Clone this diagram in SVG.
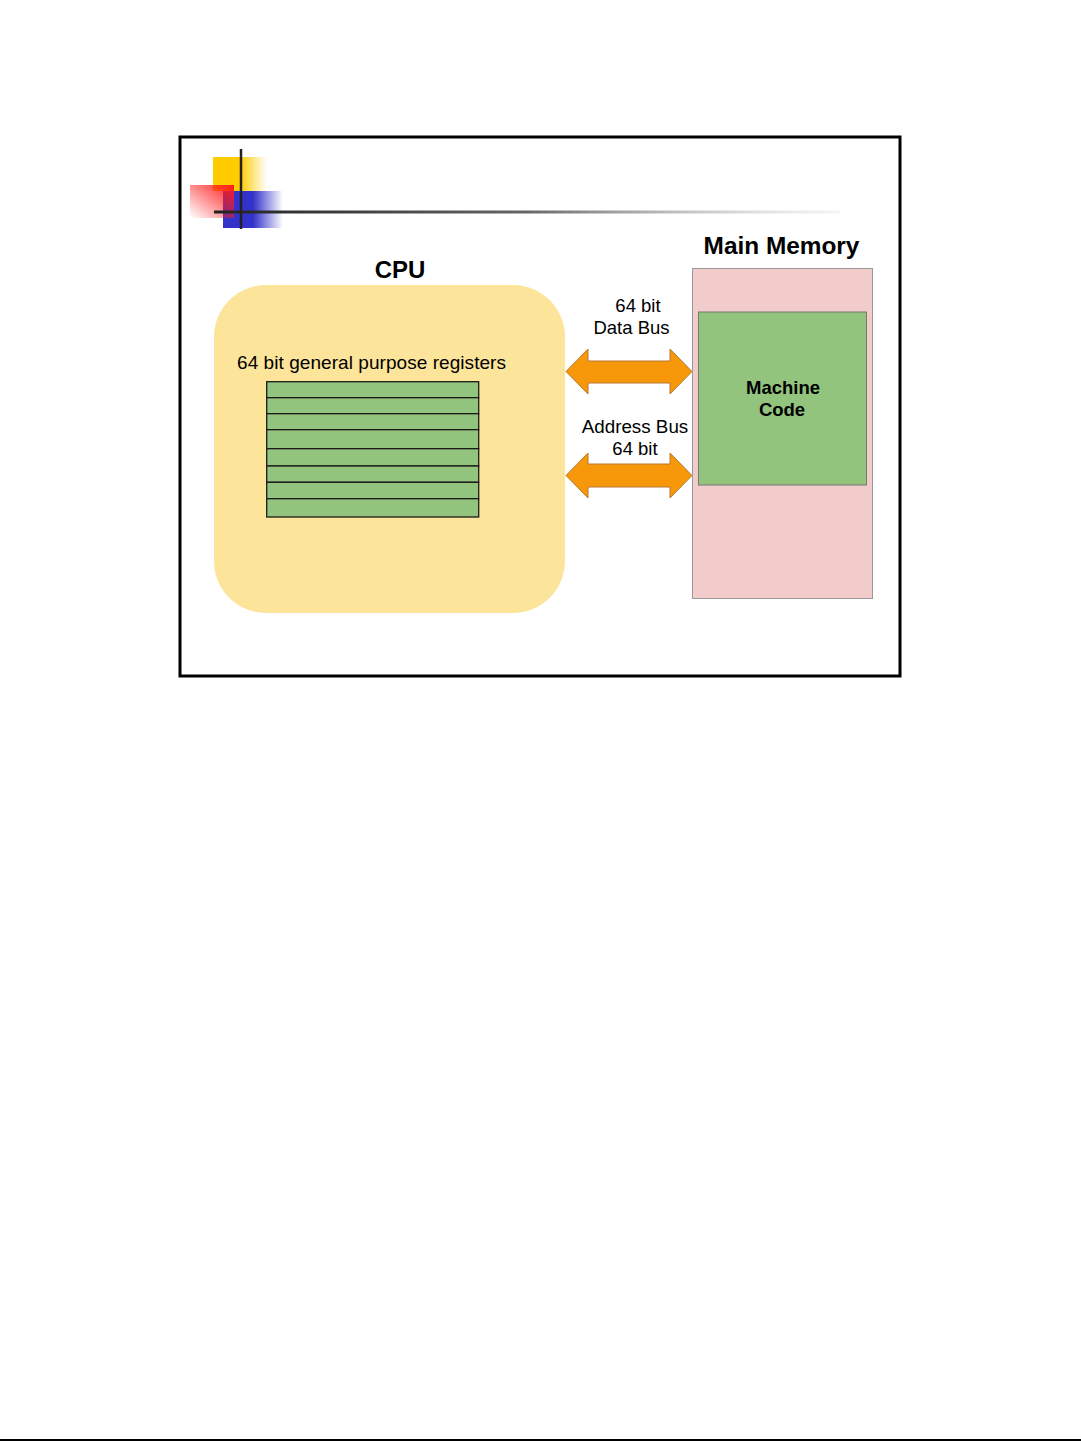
<svg xmlns="http://www.w3.org/2000/svg" width="1081" height="1441" viewBox="0 0 1081 1441">
<defs>
<linearGradient id="gy" x1="0" y1="0" x2="1" y2="0"><stop offset="0.5" stop-color="#FFCC00"/><stop offset="1" stop-color="#FFCC00" stop-opacity="0"/></linearGradient>
<linearGradient id="gb" x1="0" y1="0" x2="1" y2="0"><stop offset="0.5" stop-color="#3333CC"/><stop offset="1" stop-color="#3333CC" stop-opacity="0"/></linearGradient>
<linearGradient id="gr" x1="1" y1="0" x2="0" y2="1"><stop offset="0" stop-color="#FF1A1A"/><stop offset="1" stop-color="#FF1A1A" stop-opacity="0"/></linearGradient>
<linearGradient id="gl" x1="0" y1="0" x2="1" y2="0"><stop offset="0" stop-color="#222"/><stop offset="0.5" stop-color="#666"/><stop offset="1" stop-color="#ddd" stop-opacity="0.3"/></linearGradient>
<style>
.t{font-family:"Liberation Sans",Arial,sans-serif;fill:#000}
.b{font-weight:bold}
.arr{fill:#F7980A;stroke:#B8782E;stroke-width:1}
.reg{fill:#93C47D;stroke:#1a1a1a;stroke-width:1.3}
</style>
</defs>
<rect width="1081" height="1441" fill="#fff"/>
<line x1="0" y1="1440" x2="1081" y2="1440" stroke="#000" stroke-width="2"/>
<rect x="180" y="137" width="720" height="539" fill="none" stroke="#000" stroke-width="3"/>
<g id="logo">
<rect x="213" y="157" width="54" height="34" fill="url(#gy)"/>
<rect x="223" y="191" width="60" height="37" fill="url(#gb)"/>
<rect x="190" y="185" width="44" height="33" fill="url(#gr)"/>
<rect x="214" y="210.5" width="626" height="3" fill="url(#gl)"/>
<line x1="241" y1="149" x2="241" y2="229" stroke="#222" stroke-width="2.5"/>
</g>
<g id="cpu">
<rect x="214" y="285" width="351" height="328" rx="52" fill="#FDE49B"/>
<text class="t b" x="400" y="278" font-size="24" text-anchor="middle">CPU</text>
<text class="t" x="237" y="369" font-size="19" textLength="269">64 bit general purpose registers</text>
</g>
<g id="registers">
<rect class="reg" x="266.7" y="381.7" width="212" height="16"/>
<rect class="reg" x="266.7" y="397.7" width="212" height="16"/>
<rect class="reg" x="266.7" y="413.7" width="212" height="16"/>
<rect class="reg" x="266.7" y="429.7" width="212" height="19"/>
<rect class="reg" x="266.7" y="448.7" width="212" height="17.3"/>
<rect class="reg" x="266.7" y="466" width="212" height="16.3"/>
<rect class="reg" x="266.7" y="482.3" width="212" height="16.4"/>
<rect class="reg" x="266.7" y="498.7" width="212" height="18.3"/>
</g>
<g id="memory">
<rect x="692.5" y="268.5" width="180" height="330" fill="#F2CBCB" stroke="#999" stroke-width="1"/>
<text class="t b" x="781.5" y="254" font-size="24.4" text-anchor="middle">Main Memory</text>
</g>
<g id="machine-code">
<rect x="698.5" y="312" width="168" height="173" fill="#93C47D" stroke="#777" stroke-width="1"/>
<text class="t b" x="783" y="394" font-size="18.5" text-anchor="middle">Machine</text>
<text class="t b" x="782" y="416" font-size="18.5" text-anchor="middle">Code</text>
</g>
<g id="connectors">
<polygon class="arr" points="566,371.5 588,349 588,361 670,361 670,349 692,371.5 670,394 670,383 588,383 588,394"/>
<polygon class="arr" points="566,475.5 588,453 588,464 670,464 670,453 692,475.5 670,498 670,487 588,487 588,498"/>
<text class="t" x="638" y="312" font-size="18.5" text-anchor="middle">64 bit</text>
<text class="t" x="631.5" y="334" font-size="18.5" text-anchor="middle">Data Bus</text>
<text class="t" x="635" y="433" font-size="18.8" text-anchor="middle">Address Bus</text>
<text class="t" x="635" y="455" font-size="18.5" text-anchor="middle">64 bit</text>
</g>
</svg>
